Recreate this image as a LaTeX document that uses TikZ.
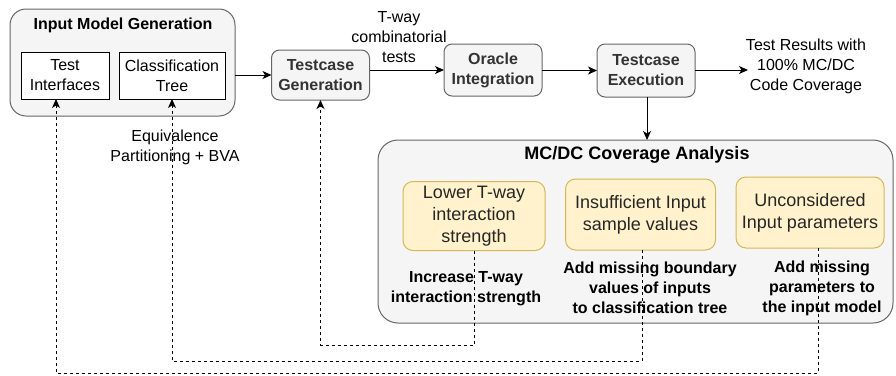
\documentclass[tikz,border=0pt]{standalone}
\usepackage{fontspec}
\setmainfont{Liberation Sans}
\usetikzlibrary{arrows.meta,calc}
\definecolor{boxfill}{HTML}{F5F5F5}
\definecolor{boxline}{HTML}{666666}
\definecolor{boxtext}{HTML}{333333}
\definecolor{yfill}{HTML}{FFF2CC}
\definecolor{yline}{HTML}{D6B656}
\begin{document}
\begin{tikzpicture}[x=1pt,y=-1pt,
  every node/.style={inner sep=0pt,outer sep=0pt,align=center},
  ftn/.style={font=\fontsize{16}{20}\selectfont},
  ftb/.style={font=\bfseries\fontsize{16}{20}\selectfont},
  ftl/.style={font=\fontsize{18}{22}\selectfont},
  group/.style={draw=boxline,fill=boxfill,line width=1pt,rounded corners=16pt},
  stage/.style={draw=boxline,fill=boxfill,line width=1pt,rounded corners=8pt,ftb,text=boxtext},
  plain/.style={draw=black,fill=white,line width=1pt,ftn},
  cause/.style={draw=yline,fill=yfill,line width=1pt,rounded corners=10pt,ftl,text=black!85},
  arr/.style={line width=1pt,-{Stealth[length=9pt,width=8pt,inset=2.5pt]}},
  dasharr/.style={line width=1pt,dash pattern=on 3pt off 3pt,-{Stealth[length=9pt,width=8pt,inset=2.5pt]}}
]
\useasboundingbox (0,0) rectangle (896,375);

% Input model generation group
\node[group,minimum width=225pt,minimum height=107pt] (img) at (122.5,62.5) {};
\node[ftb] (imgt) at (123,25) {Input Model Generation};
\node[plain,minimum width=88pt,minimum height=47pt] (ti) at (65,75.5) {Test\\Interfaces};
\node[plain,minimum width=106pt,minimum height=47pt] (ct) at (172,75.5) {Classification\\Tree};

% stages
\node[stage,minimum width=98pt,minimum height=50pt] (tg) at (320.5,75) {Testcase\\Generation};
\node[stage,minimum width=98pt,minimum height=52pt] (oi) at (493,70) {Oracle\\Integration};
\node[stage,minimum width=98pt,minimum height=53pt] (te) at (646,70.5) {Testcase\\Execution};

% edge labels
\node[ftn] (tw) at (399,37) {T-way\\combinatorial\\tests};
\node[ftn] (res) at (806,66) {Test Results with\\100\% MC/DC\\Code Coverage};
\coordinate (resin) at (748,70);
\node[ftn] (ep) at (175,147) {Equivalence\\Partitioning + BVA};

% MC/DC group
\node[group,rounded corners=20pt,minimum width=515pt,minimum height=183pt] (mc) at (635.5,231.5) {};
\node[font=\bfseries\fontsize{18}{22}\selectfont] (mct) at (637,155) {MC/DC Coverage Analysis};
\node[cause,minimum width=142pt,minimum height=69pt] (lt) at (474,216) {Lower T-way\\interaction\\strength};
\node[cause,minimum width=150pt,minimum height=71pt] (is) at (640.5,214.5) {Insufficient Input\\sample values};
\node[cause,minimum width=148pt,minimum height=71pt] (up) at (810,212.5) {Unconsidered\\Input parameters};

\node[ftb] (l1) at (466,289) {Increase T-way\\interaction strength};
\node[ftb] (l2) at (650,288) {Add missing boundary\\values of inputs\\to classification tree};
\node[ftb] (l3) at (822,288) {Add missing\\parameters to\\the input model};

% solid arrows
\draw[arr] (img.east |- 0,75) -- (tg.west |- 0,75);
\draw[arr] (tg.east |- 0,70) -- (oi.west |- 0,70);
\draw[arr] (oi.east |- 0,70.5) -- (te.west |- 0,70.5);
\draw[arr] (te.east |- resin) -- (resin);
\draw[arr] (te.south -| 647,0) -- (mc.north -| 647,0);

% dashed feedback arrows
\coordinate (c1) at (474,345);
\coordinate (c2) at (642,361);
\coordinate (c3) at (818,373);
\coordinate (c4) at (56,373);
\draw[dasharr] (lt.south -| c1) -- (c1) -| (tg.south);
\draw[dasharr] (is.south -| c2) -- (c2) -| (ct.south);
\draw[dasharr] (up.south -| c3) -- (c3) -- (c4) -- (ti.south -| c4);
\end{tikzpicture}
\end{document}
